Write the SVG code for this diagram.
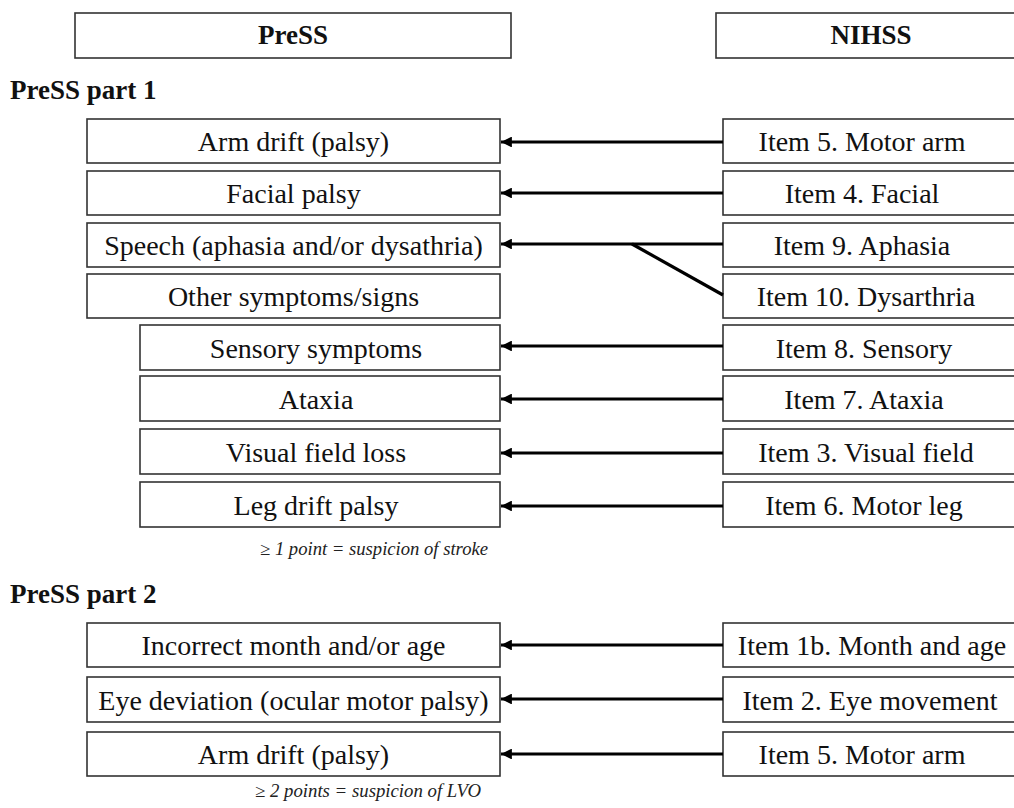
<svg xmlns="http://www.w3.org/2000/svg" width="1014" height="808" viewBox="0 0 1014 808">
<style>
.box{fill:#fff;stroke:#333;stroke-width:1.6}
.t{font-family:"Liberation Serif","Times New Roman",serif;font-size:28px;fill:#111;text-anchor:middle}
.h{font-family:"Liberation Serif","Times New Roman",serif;font-size:27px;font-weight:bold;fill:#111;text-anchor:middle}
.sec{font-family:"Liberation Serif","Times New Roman",serif;font-size:27px;font-weight:bold;fill:#111}
.note{font-family:"Liberation Serif","Times New Roman",serif;font-size:18px;font-style:italic;fill:#222}
.c{stroke:#000;stroke-width:3.2;fill:none}
</style>
<defs>
<marker id="ah" viewBox="0 0 10 10" refX="10" refY="5" markerWidth="4" markerHeight="3.4" orient="auto" markerUnits="strokeWidth">
<path d="M0,0 L10,5 L0,10 Z" fill="#000"/>
</marker>
</defs>
<rect width="1014" height="808" fill="#fff"/>

<g id="hdr-press"><rect class="box" x="75" y="13" width="436" height="45"/><text class="h" x="293" y="44">PreSS</text></g>
<g id="hdr-nihss"><rect class="box" x="716" y="13" width="310" height="45"/><text class="h" x="871" y="44">NIHSS</text></g>

<text class="sec" x="10" y="99">PreSS part 1</text>

<g id="l-arm"><rect class="box" x="87" y="119" width="413" height="44"/><text class="t" x="293.5" y="151">Arm drift (palsy)</text></g>
<g id="l-facial"><rect class="box" x="87" y="171" width="413" height="44"/><text class="t" x="293.5" y="203">Facial palsy</text></g>
<g id="l-speech"><rect class="box" x="87" y="223" width="413" height="44"/><text class="t" x="293.5" y="255">Speech (aphasia and/or dysathria)</text></g>
<g id="l-other"><rect class="box" x="87" y="274" width="413" height="44"/><text class="t" x="293.5" y="306">Other symptoms/signs</text></g>
<g id="l-sensory"><rect class="box" x="140" y="325" width="360" height="45"/><text class="t" x="316" y="358">Sensory symptoms</text></g>
<g id="l-ataxia"><rect class="box" x="140" y="376" width="360" height="45"/><text class="t" x="316" y="409">Ataxia</text></g>
<g id="l-visual"><rect class="box" x="140" y="429" width="360" height="45"/><text class="t" x="316" y="462">Visual field loss</text></g>
<g id="l-leg"><rect class="box" x="140" y="482" width="360" height="45"/><text class="t" x="316" y="515">Leg drift palsy</text></g>

<g id="r-arm"><rect class="box" x="723" y="119" width="310" height="44"/><text class="t" x="862" y="151">Item 5. Motor arm</text></g>
<g id="r-facial"><rect class="box" x="723" y="171" width="310" height="44"/><text class="t" x="862" y="203">Item 4. Facial</text></g>
<g id="r-aphasia"><rect class="box" x="723" y="223" width="310" height="44"/><text class="t" x="862" y="255">Item 9. Aphasia</text></g>
<g id="r-dysarthria"><rect class="box" x="723" y="274" width="310" height="44"/><text class="t" x="866" y="306">Item 10. Dysarthria</text></g>
<g id="r-sensory"><rect class="box" x="723" y="325" width="310" height="45"/><text class="t" x="864" y="358">Item 8. Sensory</text></g>
<g id="r-ataxia"><rect class="box" x="723" y="376" width="310" height="45"/><text class="t" x="864" y="409">Item 7. Ataxia</text></g>
<g id="r-visual"><rect class="box" x="723" y="429" width="310" height="45"/><text class="t" x="866" y="462">Item 3. Visual field</text></g>
<g id="r-leg"><rect class="box" x="723" y="482" width="310" height="45"/><text class="t" x="864" y="515">Item 6. Motor leg</text></g>

<text class="note" x="260" y="555" textLength="228" lengthAdjust="spacingAndGlyphs">≥ 1 point = suspicion of stroke</text>

<text class="sec" x="10" y="603">PreSS part 2</text>

<g id="l2-month"><rect class="box" x="87" y="623" width="413" height="44"/><text class="t" x="293.5" y="655">Incorrect month and/or age</text></g>
<g id="l2-eye"><rect class="box" x="87" y="677" width="413" height="45"/><text class="t" x="293.5" y="710">Eye deviation (ocular motor palsy)</text></g>
<g id="l2-arm"><rect class="box" x="87" y="732" width="413" height="44"/><text class="t" x="293.5" y="764">Arm drift (palsy)</text></g>

<g id="r2-month"><rect class="box" x="723" y="623" width="310" height="44"/><text class="t" x="872" y="655">Item 1b. Month and age</text></g>
<g id="r2-eye"><rect class="box" x="723" y="677" width="310" height="45"/><text class="t" x="870" y="710">Item 2. Eye movement</text></g>
<g id="r2-arm"><rect class="box" x="723" y="732" width="310" height="44"/><text class="t" x="862" y="764">Item 5. Motor arm</text></g>

<text class="note" x="255" y="797" textLength="226" lengthAdjust="spacingAndGlyphs">≥ 2 points = suspicion of LVO</text>

<g id="connectors">
<line class="c" x1="723" y1="142" x2="501" y2="142" marker-end="url(#ah)"/>
<line class="c" x1="723" y1="193" x2="501" y2="193" marker-end="url(#ah)"/>
<line class="c" x1="723" y1="244" x2="501" y2="244" marker-end="url(#ah)"/>
<line class="c" x1="723" y1="295" x2="632" y2="244"/>
<line class="c" x1="723" y1="346" x2="501" y2="346" marker-end="url(#ah)"/>
<line class="c" x1="723" y1="399" x2="501" y2="399" marker-end="url(#ah)"/>
<line class="c" x1="723" y1="453" x2="501" y2="453" marker-end="url(#ah)"/>
<line class="c" x1="723" y1="506" x2="501" y2="506" marker-end="url(#ah)"/>
<line class="c" x1="723" y1="645" x2="501" y2="645" marker-end="url(#ah)"/>
<line class="c" x1="723" y1="699" x2="501" y2="699" marker-end="url(#ah)"/>
<line class="c" x1="723" y1="754" x2="501" y2="754" marker-end="url(#ah)"/>
</g>
</svg>
